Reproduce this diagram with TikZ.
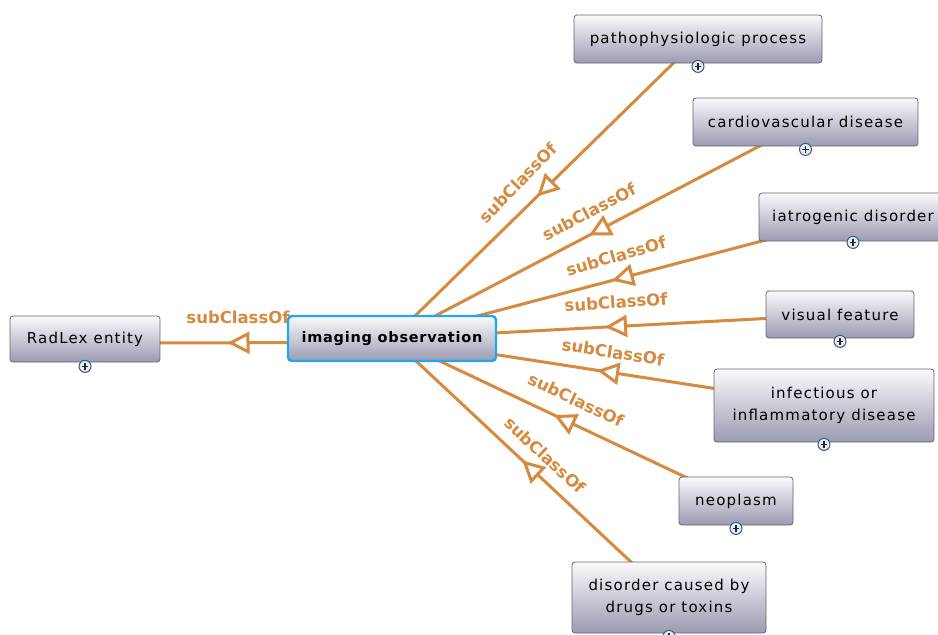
\documentclass[tikz,border=0pt]{standalone}
\usepackage{fontspec}
\setmainfont{DejaVu Sans}
\newfontfamily\boxfont[LetterSpace=8]{DejaVu Sans}
\newfontfamily\labfont{DejaVu Sans}
\newfontfamily\obsfont[LetterSpace=5]{DejaVu Sans}
\usetikzlibrary{arrows.meta,decorations.markings,backgrounds}
\definecolor{edgeor}{RGB}{214,138,62}
\definecolor{boxtop}{RGB}{250,250,252}
\definecolor{boxbot}{RGB}{155,155,178}
\definecolor{boxline}{RGB}{100,100,115}
\definecolor{selblue}{RGB}{34,166,240}
\definecolor{plusline}{RGB}{60,90,125}
\definecolor{plusfill}{RGB}{228,236,246}
\begin{document}
\begin{tikzpicture}[x=1pt,y=-1pt,
  cls/.style={draw=boxline, line width=0.8pt, rounded corners=3pt,
    top color=boxtop, bottom color=boxbot, align=center, inner sep=0pt,
    font=\boxfont\fontsize{15}{22}\selectfont},
  obsbox/.style={draw=selblue, line width=2.4pt, rounded corners=4pt,
    top color=boxtop, bottom color=boxbot, inner sep=0pt,
    font=\obsfont\bfseries\fontsize{14.5}{17}\selectfont},
  plusic/.style={circle, draw=plusline, line width=1pt, fill=plusfill,
    minimum size=12pt, inner sep=0pt,
    path picture={\draw[line width=1.5pt, black!85]
      ([xshift=-3.2pt]path picture bounding box.center) -- ([xshift=3.2pt]path picture bounding box.center)
      ([yshift=-3.2pt]path picture bounding box.center) -- ([yshift=3.2pt]path picture bounding box.center);}},
  lab/.style={text=edgeor, inner sep=0pt,
    font=\labfont\bfseries\fontsize{16.5}{18}\selectfont},
  subedge/.style={draw=edgeor, line width=3pt, postaction={decorate},
    decoration={markings, mark=at position 0.5 with
      {\arrow[xshift=11pt]{Triangle[fill=white, length=22pt, width=22pt]}}}}
]
\useasboundingbox (0,0) rectangle (938,635);
\clip (0,0) rectangle (938,635);

% nodes
\node[cls, minimum width=150pt, minimum height=46pt] (radlex) at (85,339) {RadLex entity};
\node[obsbox, minimum width=208pt, minimum height=45pt] (obs) at (392,338.5) {imaging observation};
\node[cls, minimum width=248pt, minimum height=48pt] (patho) at (698,39) {pathophysiologic process};
\node[cls, minimum width=225pt, minimum height=48pt] (cardio) at (805.5,122) {cardiovascular disease};
\node[cls, minimum width=188pt, minimum height=48pt] (iatro) at (853,217) {iatrogenic disorder};
\node[cls, minimum width=148pt, minimum height=47pt] (visual) at (840,314.5) {visual feature};
\node[cls, minimum width=220pt, minimum height=73pt] (infect) at (824,405.5) {infectious or\\inflammatory disease};
\node[cls, minimum width=114pt, minimum height=48pt] (neo) at (736,501) {neoplasm};
\node[cls, minimum width=194pt, minimum height=71pt] (drugs) at (669,597.5) {disorder caused by\\drugs or toxins};

% expand icons
\node[plusic] (radlexp) at ([yshift=-4pt]radlex.south) {};
\node[plusic] (pathop) at ([yshift=-3pt]patho.south) {};
\node[plusic] (cardiop) at ([yshift=-3pt]cardio.south) {};
\node[plusic] (iatrop) at ([yshift=-1pt]iatro.south) {};
\node[plusic] (visualp) at ([yshift=-3pt]visual.south) {};
\node[plusic] (infectp) at ([yshift=-2pt]infect.south) {};
\node[plusic] (neop) at ([yshift=-3pt]neo.south) {};
\node[plusic] (drugsp) at ([yshift=-3pt]drugs.south) {};

% labels
\node[lab] (l0) at (238,317) {subClassOf};
\node[lab, rotate=45.5] (l1) at (518,183) {subClassOf};
\node[lab, rotate=27.5] (l2) at (589,212) {subClassOf};
\node[lab, rotate=16] (l3) at (616,256) {subClassOf};
\node[lab, rotate=4] (l4) at (616,302) {subClassOf};
\node[lab, rotate=-9] (l5) at (613,352) {subClassOf};
\node[lab, rotate=-25] (l6) at (576,400) {subClassOf};
\node[lab, rotate=-43] (l7) at (545,455) {subClassOf};

% connectors
\begin{scope}[on background layer]
\fill[white] (0,0) rectangle (938,635);
\draw[subedge] ([yshift=-4pt]obs.center) -- ([yshift=-4pt]radlex.center);
\draw[subedge] (patho.center) -- (obs.center);
\draw[subedge] (cardio.center) -- (obs.center);
\draw[subedge] (iatro.center) -- (obs.center);
\draw[subedge] (visual.center) -- (obs.center);
\draw[subedge] (infect.center) -- (obs.center);
\draw[subedge] (neo.center) -- (obs.center);
\draw[subedge] (drugs.center) -- (obs.center);
\end{scope}
\end{tikzpicture}
\end{document}
